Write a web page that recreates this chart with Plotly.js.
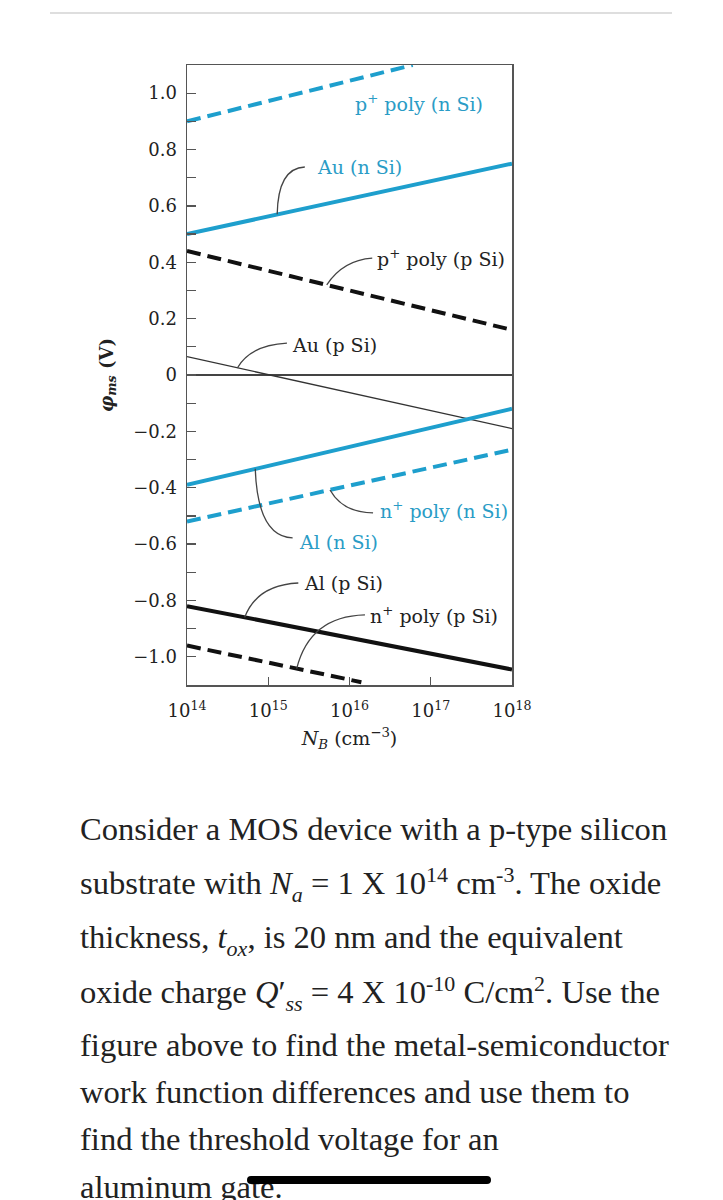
<!DOCTYPE html>
<html>
<head>
<meta charset="utf-8">
<script src="https://cdn.plot.ly/plotly-3.0.1.min.js"></script>
<style>
  body { margin: 0; background: #fff; width: 723px; height: 1200px; overflow: hidden; position: relative; }
  #rule { position: absolute; left: 50px; top: 12px; width: 622px; height: 2px; background: #dedede; }
  #plot { position: absolute; left: 0; top: 0; width: 723px; height: 760px; }
  .txt { position: absolute; left: 80px; white-space: nowrap; font-family: "Liberation Serif", serif;
         font-size: 32.6px; line-height: 47px; color: #222; }
  .txt sup, .txt sub { font-size: 22px; line-height: 0; }
  #bar { position: absolute; left: 247px; top: 1176px; width: 244px; height: 8px; border-radius: 4px; background: #000; }
</style>
</head>
<body>
<div id="rule"></div>
<div id="plot"></div>
<div class="txt" style="top:806px">Consider a MOS device with a p-type silicon</div>
<div class="txt" style="top:860px">substrate with <i>N<sub>a</sub></i> = 1 X 10<sup>14</sup> cm<sup>-3</sup>. The oxide</div>
<div class="txt" style="top:914px">thickness, <i>t<sub>ox</sub></i>, is 20 nm and the equivalent</div>
<div class="txt" style="top:969px">oxide charge <i>Q</i>&#8242;<sub><i>ss</i></sub> = 4 X 10<sup>-10</sup> C/cm<sup>2</sup>. Use the</div>
<div class="txt" style="top:1022px">figure above to find the metal-semiconductor</div>
<div class="txt" style="top:1069px">work function differences and use them to</div>
<div class="txt" style="top:1116px">find the threshold voltage for an</div>
<div class="txt" style="top:1164px">aluminum gate.</div>
<div id="bar"></div>
<script>
// doping range (cm^-3) and phi_ms values (V)
var nbFull = [1e14, 1e18];

var pPolyN_x = [1e14, 6e16];   // runs out of the top of the box
var pPolyN_y = [0.90, 1.10];
var auN_y = [0.50, 0.75];
var pPolyP_y = [0.44, 0.16];
var auP_y = [0.065, -0.19];
var alN_y = [-0.39, -0.12];
var nPolyN_y = [-0.52, -0.265];
var alP_y = [-0.82, -1.045];
var nPolyP_x = [1e14, 1.4e16];
var nPolyP_y = [-0.96, -1.09];

var xTickVals = [1e14, 1e15, 1e16, 1e17, 1e18];
var xTickText = ['10<sup>14</sup>', '10<sup>15</sup>', '10<sup>16</sup>', '10<sup>17</sup>', '10<sup>18</sup>'];
var yTickVals = [1.0, 0.8, 0.6, 0.4, 0.2, 0, -0.2, -0.4, -0.6, -0.8, -1.0];
var yTickText = ['1.0', '0.8', '0.6', '0.4', '0.2', '0', '\u22120.2', '\u22120.4', '\u22120.6', '\u22120.8', '\u22121.0'];

var BLUE = '#1e9fcd';
var BLUE_TXT = '#2a9cc6';
var BLACK = '#111';
var FONT = 'DejaVu Serif';

function line(x, y, color, width, dash) {
    return {
        type: 'scatter', mode: 'lines', x: x, y: y,
        line: { color: color, width: width, dash: dash || 'solid' },
        hoverinfo: 'skip', showlegend: false
    };
}

var data = [
    line(nbFull, auP_y, '#333', 1.3),
    line(pPolyN_x, pPolyN_y, BLUE, 4, '14px,7px'),
    line(nbFull, auN_y, BLUE, 4),
    line(nbFull, pPolyP_y, BLACK, 4, '14px,7px'),
    line(nbFull, alN_y, BLUE, 4),
    line(nbFull, nPolyN_y, BLUE, 4, '14px,7px'),
    line(nbFull, alP_y, BLACK, 4),
    line(nPolyP_x, nPolyP_y, BLACK, 4, '14px,7px')
];

// labels: [text, log10 x of left edge, y, colour]
var labels = [
    ['p<sup>+</sup> poly (n Si)', 16.04, 0.965, BLUE_TXT],
    ['Au (n Si)', 15.58, 0.738, BLUE_TXT],
    ['p<sup>+</sup> poly (p Si)', 16.31, 0.415, '#222'],
    ['Au (p Si)', 15.27, 0.106, '#222'],
    ['n<sup>+</sup> poly (n Si)', 16.35, -0.479, BLUE_TXT],
    ['Al (n Si)', 15.35, -0.592, BLUE_TXT],
    ['Al (p Si)', 15.42, -0.738, '#222'],
    ['n<sup>+</sup> poly (p Si)', 16.23, -0.851, '#222']
];

// curved leaders: start (near label), control point, end (on the curve); x in log10
var leaders = [
    [15.45, 0.738, 15.12, 0.734, 15.11, 0.57],
    [16.28, 0.415, 15.92, 0.408, 15.72, 0.32],
    [15.23, 0.113, 14.78, 0.106, 14.62, 0.025],
    [16.29, -0.489, 15.92, -0.489, 15.76, -0.408],
    [15.30, -0.578, 14.87, -0.574, 14.84, -0.333],
    [15.37, -0.738, 14.86, -0.745, 14.71, -0.860],
    [16.19, -0.851, 15.51, -0.856, 15.35, -1.042]
];

var annotations = labels.map(function (l) {
    return {
        text: l[0], x: l[1], y: l[2], xref: 'x', yref: 'y',
        xanchor: 'left', yanchor: 'middle', showarrow: false,
        font: { family: FONT, size: 19, color: l[3] }
    };
});

var shapes = leaders.map(function (p) {
    var X = function (d) { return Math.pow(10, d); };
    return {
        type: 'path', xref: 'x', yref: 'y',
        path: 'M' + X(p[0]) + ',' + p[1] + ' Q' + X(p[2]) + ',' + p[3] + ' ' + X(p[4]) + ',' + p[5],
        line: { color: '#444', width: 1.3 }
    };
});

var layout = {
    width: 723, height: 760,
    margin: { l: 187, r: 211, t: 65, b: 75, pad: 0 },
    paper_bgcolor: 'rgba(0,0,0,0)',
    plot_bgcolor: '#fff',
    showlegend: false,
    xaxis: {
        type: 'log', range: [14, 18],
        tickmode: 'array', tickvals: xTickVals, ticktext: xTickText,
        ticks: 'inside', ticklen: 8, tickwidth: 1.2, tickcolor: '#555',
        showline: true, mirror: true, linecolor: '#555', linewidth: 1.5,
        showgrid: false, zeroline: false, automargin: false,
        ticklabelstandoff: 9,
        tickfont: { family: FONT, size: 18, color: '#222' },
        title: {
            text: '<i>N</i><sub><i>B</i></sub> (cm<sup>\u22123</sup>)',
            font: { family: FONT, size: 19, color: '#222' },
            standoff: 11
        }
    },
    yaxis: {
        range: [-1.1, 1.1],
        tickmode: 'array', tickvals: yTickVals, ticktext: yTickText,
        ticks: 'inside', ticklen: 9, tickwidth: 1.2, tickcolor: '#555',
        minor: { dtick: 0.1, tick0: 0, ticks: 'inside', ticklen: 9, tickwidth: 1.2, tickcolor: '#555' },
        showline: true, mirror: true, linecolor: '#555', linewidth: 1.5,
        showgrid: false, zeroline: true, zerolinecolor: '#444', zerolinewidth: 1.2,
        automargin: false, ticklabelstandoff: 5,
        tickfont: { family: FONT, size: 18, color: '#222' },
        title: {
            text: '<i>\u03c6</i><sub><i>ms</i></sub> (V)',
            font: { family: FONT, size: 18, color: '#222', weight: 'bold' },
            standoff: 15
        }
    },
    annotations: annotations,
    shapes: shapes
};

Plotly.newPlot('plot', data, layout, { staticPlot: true, displayModeBar: false });
</script>
</body>
</html>
